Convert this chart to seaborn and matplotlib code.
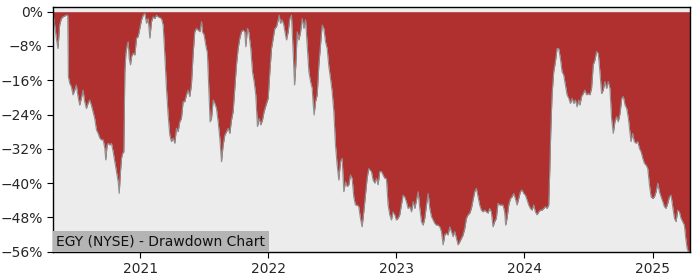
import numpy as np
import pandas as pd
import matplotlib
matplotlib.use("Agg")
import matplotlib.pyplot as plt
import matplotlib.dates as mdates
from matplotlib.ticker import PercentFormatter, MultipleLocator
import seaborn as sns

title_text = "EGY (NYSE) - Drawdown Chart"

# time in decimal years, drawdown in percent
year_frac = [
    2020.318, 2020.331, 2020.344, 2020.357, 2020.370, 2020.383, 2020.396, 2020.422, 2020.433, 2020.438,
    2020.448, 2020.461, 2020.474, 2020.487, 2020.500, 2020.513, 2020.526, 2020.539, 2020.552, 2020.565,
    2020.578, 2020.591, 2020.604, 2020.617, 2020.630, 2020.643, 2020.657, 2020.670, 2020.683, 2020.696,
    2020.709, 2020.722, 2020.729, 2020.740, 2020.750, 2020.761, 2020.774, 2020.787, 2020.800, 2020.813,
    2020.826, 2020.834, 2020.844, 2020.852, 2020.860, 2020.870, 2020.878, 2020.886, 2020.896, 2020.904,
    2020.912, 2020.922, 2020.930, 2020.943, 2020.956, 2020.969, 2020.982, 2020.995, 2021.008, 2021.021,
    2021.034, 2021.047, 2021.060, 2021.073, 2021.086, 2021.099, 2021.112, 2021.125, 2021.138,
    2021.164, 2021.177, 2021.190, 2021.203, 2021.216, 2021.229, 2021.242, 2021.255, 2021.268, 2021.281,
    2021.294, 2021.307, 2021.320, 2021.333, 2021.346, 2021.359, 2021.372, 2021.385, 2021.398, 2021.411,
    2021.424, 2021.437, 2021.450, 2021.464, 2021.477, 2021.484, 2021.497, 2021.510, 2021.523, 2021.534,
    2021.544, 2021.555, 2021.568, 2021.581, 2021.594, 2021.607, 2021.620, 2021.633, 2021.646, 2021.659,
    2021.672, 2021.685, 2021.698, 2021.711, 2021.724, 2021.737, 2021.750, 2021.763, 2021.776, 2021.789,
    2021.802, 2021.815, 2021.823, 2021.836, 2021.846, 2021.862, 2021.875, 2021.888, 2021.901, 2021.914,
    2021.927, 2021.940, 2021.953, 2021.966,
    2021.985, 2021.998, 2022.011, 2022.024, 2022.037, 2022.050, 2022.063, 2022.076, 2022.084, 2022.094,
    2022.107, 2022.120, 2022.133, 2022.141, 2022.154, 2022.167, 2022.180, 2022.193, 2022.204, 2022.214,
    2022.225, 2022.238, 2022.251, 2022.264, 2022.277, 2022.290, 2022.303, 2022.316, 2022.329, 2022.342,
    2022.350, 2022.357, 2022.368, 2022.381, 2022.394, 2022.407, 2022.420, 2022.433, 2022.446, 2022.459,
    2022.472, 2022.485, 2022.498, 2022.511, 2022.524, 2022.537, 2022.550, 2022.563, 2022.576, 2022.589,
    2022.602, 2022.615, 2022.628, 2022.641, 2022.654, 2022.667, 2022.680, 2022.693, 2022.706, 2022.719,
    2022.732, 2022.745, 2022.758, 2022.771,
    2022.784, 2022.792, 2022.805, 2022.818, 2022.831, 2022.844, 2022.857, 2022.870, 2022.883, 2022.896,
    2022.909, 2022.922, 2022.935, 2022.948, 2022.961, 2022.974, 2022.987, 2023.000, 2023.013, 2023.026,
    2023.039, 2023.052, 2023.065, 2023.078, 2023.091, 2023.104, 2023.118, 2023.131, 2023.144, 2023.157,
    2023.170, 2023.183, 2023.196, 2023.209, 2023.222, 2023.235, 2023.248, 2023.261, 2023.274, 2023.287,
    2023.300, 2023.313, 2023.326, 2023.339, 2023.352, 2023.365, 2023.378, 2023.391, 2023.404, 2023.417,
    2023.430, 2023.443, 2023.456, 2023.469, 2023.482, 2023.495, 2023.508, 2023.521, 2023.534, 2023.547,
    2023.560, 2023.573, 2023.586,
    2023.612, 2023.625, 2023.638, 2023.651, 2023.664, 2023.677, 2023.690, 2023.703, 2023.716, 2023.729,
    2023.742, 2023.755, 2023.768, 2023.781, 2023.794, 2023.807, 2023.820, 2023.833, 2023.846, 2023.854,
    2023.865, 2023.878, 2023.891, 2023.904, 2023.917, 2023.930, 2023.943, 2023.956, 2023.969, 2023.982,
    2023.995, 2024.008, 2024.021, 2024.034, 2024.047, 2024.060, 2024.073, 2024.086, 2024.099, 2024.112,
    2024.125, 2024.138, 2024.151, 2024.164, 2024.177, 2024.190, 2024.198, 2024.206, 2024.216, 2024.229,
    2024.242, 2024.255, 2024.268, 2024.281, 2024.294, 2024.307, 2024.320, 2024.333, 2024.346, 2024.359,
    2024.372, 2024.385, 2024.398, 2024.411, 2024.424,
    2024.433, 2024.446, 2024.459, 2024.472, 2024.485, 2024.498, 2024.511, 2024.524, 2024.537, 2024.550,
    2024.563, 2024.576, 2024.589, 2024.602, 2024.615, 2024.628, 2024.641, 2024.654, 2024.667, 2024.680,
    2024.693, 2024.706, 2024.719, 2024.732, 2024.746, 2024.759, 2024.772, 2024.785, 2024.798, 2024.811,
    2024.824, 2024.831, 2024.844, 2024.857, 2024.870, 2024.884, 2024.897, 2024.910, 2024.923, 2024.936,
    2024.949, 2024.962, 2024.975, 2024.988, 2025.001, 2025.014, 2025.027, 2025.040, 2025.053, 2025.066,
    2025.079, 2025.092, 2025.105, 2025.118, 2025.131, 2025.144, 2025.157, 2025.170, 2025.183, 2025.196,
    2025.209, 2025.222, 2025.235, 2025.248, 2025.259, 2025.269, 2025.279, 2025.292,
]

drawdown_pct = [
    0.0, -3.1, -6.2, -8.6, -3.1, -1.6, -1.2, -0.8, -0.8, -15.2,
    -16.7, -17.5, -19.4, -18.3, -17.1, -19.8, -21.8, -20.2, -18.3, -21.0,
    -22.6, -21.4, -20.6, -21.8, -23.3, -24.9, -27.6, -28.4, -29.5, -29.9,
    -29.9, -31.9, -34.6, -31.1, -30.7, -31.1, -30.7, -32.7, -35.0, -37.3,
    -39.7, -42.4, -37.3, -34.2, -33.1, -32.7, -14.0, -9.7, -7.8, -7.0,
    -10.9, -12.4, -10.5, -9.7, -10.1, -6.2, -5.8, -3.9, -1.9, -0.8,
    -0.4, -2.7, -1.6, -6.2, -2.3, -1.2, -1.6, -0.8, -1.2,
    -1.6, -3.1, -10.1, -17.9, -24.1, -28.8, -30.3, -29.5, -30.7, -27.2,
    -28.0, -25.7, -24.9, -21.0, -21.0, -19.4, -18.3, -19.8, -17.1, -10.1,
    -4.7, -3.9, -4.3, -4.7, -2.3, -4.7, -5.4, -7.8, -9.7, -17.9,
    -25.7, -24.9, -20.6, -21.4, -22.6, -25.7, -29.5, -35.0, -31.1, -28.8,
    -28.0, -27.2, -28.4, -25.3, -23.3, -17.9, -12.4, -8.6, -6.2, -4.7,
    -4.3, -4.7, -8.2, -3.9, -4.7, -8.6, -14.0, -16.3, -19.4, -26.8,
    -24.9, -26.4, -25.3, -23.3,
    -21.4, -20.2, -14.0, -8.6, -6.2, -3.9, -3.5, -1.9, -0.8, -2.7,
    -1.9, -3.1, -5.4, -6.6, -4.7, -1.6, -0.8, -9.3, -17.1, -12.4,
    -4.7, -6.6, -4.7, -1.6, -3.9, -1.9, -7.8, -14.0, -16.3, -17.9,
    -21.8, -24.1, -21.0, -19.4, -12.4, -7.8, -3.1, -3.9, -7.0, -8.6,
    -12.8, -15.6, -18.7, -23.3, -31.1, -35.8, -39.3, -35.0, -34.2, -42.0,
    -39.7, -40.8, -40.4, -38.1, -38.9, -43.2, -45.1, -45.1, -45.5, -48.2,
    -50.2, -46.7, -42.8, -38.9,
    -36.6, -36.9, -37.3, -39.3, -40.0, -38.9, -40.4, -37.3, -37.3, -38.1,
    -38.9, -38.9, -45.1, -47.4, -48.6, -46.7, -47.4, -48.6, -48.2, -47.4,
    -45.1, -42.8, -43.2, -44.3, -45.9, -45.5, -46.7, -44.3, -45.9, -43.9,
    -42.0, -45.9, -49.0, -49.8, -48.2, -45.1, -42.4, -45.9, -47.8, -48.6,
    -49.4, -49.8, -49.8, -50.2, -51.3, -54.4, -52.1, -51.7, -52.1, -50.2,
    -51.3, -52.5, -51.3, -52.9, -54.4, -53.7, -52.9, -52.1, -50.6, -48.2,
    -47.4, -47.0, -45.9,
    -42.0, -41.2, -43.2, -45.1, -46.3, -46.7, -46.3, -46.7, -47.0, -45.9,
    -46.7, -50.2, -49.0, -48.2, -44.7, -45.1, -45.1, -45.1, -46.7, -49.8,
    -48.2, -45.1, -43.6, -43.2, -42.4, -43.6, -45.1, -43.6, -42.0, -41.6,
    -42.4, -42.8, -43.9, -45.1, -45.9, -46.3, -45.1, -46.7, -47.4, -46.7,
    -46.3, -46.3, -45.9, -45.5, -45.9, -45.1, -37.3, -28.0, -19.4, -14.0,
    -11.7, -8.6, -8.6, -10.9, -14.0, -14.8, -17.1, -19.4, -20.2, -21.4,
    -20.2, -21.4, -20.6, -22.2, -20.6,
    -21.8, -19.8, -19.1, -18.3, -19.4, -19.1, -19.4, -17.9, -12.4, -11.3,
    -9.3, -9.7, -14.0, -19.1, -18.3, -16.3, -17.9, -16.3, -17.9, -24.9,
    -28.4, -25.7, -24.5, -25.7, -23.7, -20.2, -19.8, -21.8, -22.6, -24.9,
    -28.4, -30.3, -28.4, -30.3, -30.7, -30.3, -31.9, -32.7, -34.2, -35.4,
    -35.8, -36.6, -40.4, -43.2, -43.6, -43.2, -42.0, -40.0, -42.0, -43.2,
    -44.3, -45.5, -45.9, -44.7, -43.2, -42.8, -45.5, -48.2, -49.0, -46.3,
    -46.7, -48.2, -49.0, -49.8, -52.9, -55.2, -56.0, -55.8,
]


def to_datetime(y):
    yr = int(np.floor(y))
    start = pd.Timestamp(year=yr, month=1, day=1)
    end = pd.Timestamp(year=yr + 1, month=1, day=1)
    return start + (end - start) * (y - yr)


df = pd.DataFrame({
    "date": [to_datetime(y) for y in year_frac],
    "drawdown": drawdown_pct,
})

sns.set_style("ticks")
plt.rcParams["font.family"] = ["DejaVu Sans"]

fig = plt.figure(figsize=(7, 2.8), dpi=100)
ax = fig.add_axes([0.0757, 0.1, 0.9100, 0.874])
ax.set_facecolor("#ececec")

ax.fill_between(df["date"], df["drawdown"], 0, color="#b03030", linewidth=0)
sns.lineplot(data=df, x="date", y="drawdown", ax=ax, color="#8f8f8f",
             linewidth=0.8)

ax.set_xlim(df["date"].iloc[0], df["date"].iloc[-1])
ax.set_ylim(-56.07, 1.03)
ax.yaxis.set_major_locator(MultipleLocator(8))
ax.yaxis.set_major_formatter(PercentFormatter(decimals=0))
ax.xaxis.set_major_locator(mdates.YearLocator())
ax.xaxis.set_major_formatter(mdates.DateFormatter("%Y"))
ax.set_xlabel("")
ax.set_ylabel("")
ax.tick_params(labelsize=10, length=4, color="black")
for s in ax.spines.values():
    s.set_color("black")
    s.set_linewidth(1.0)

ax.annotate(title_text, xy=(0, 0), xycoords="axes fraction",
            xytext=(2.3, 2.6), textcoords="offset points", fontsize=10,
            ha="left", va="bottom", color="#111111", zorder=5,
            bbox=dict(facecolor="#b4b4b4", edgecolor="none", pad=2.4))

fig.savefig("out.png", dpi=100)
